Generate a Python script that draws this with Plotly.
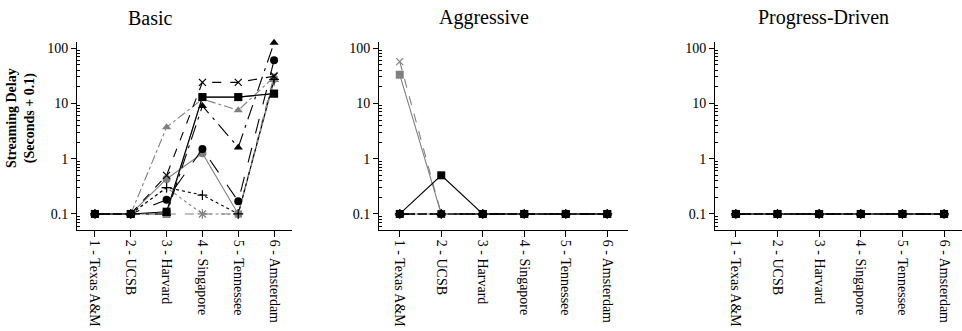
import plotly.graph_objects as go

W, H = 962, 331

categories = ["1 - Texas A&M", "2 - UCSB", "3 - Harvard", "4 - Singapore", "5 - Tennessee", "6 - Amsterdam"]
panel_titles = ["Basic", "Aggressive", "Progress-Driven"]

# Basic panel (streaming delay, seconds + 0.1)
basic_gray_plus = [0.1, 0.1, 0.3, 0.1, 0.1, 25]
basic_gray_x = [0.1, 0.1, 0.1, 0.1, 0.1, 32]
basic_gray_square = [0.1, 0.1, 0.1, 13, 13, 15]
basic_gray_circle = [0.1, 0.1, 0.43, 1.25, 0.1, 28]
basic_gray_triangle = [0.1, 0.1, 3.7, 12, 7.5, 30]
basic_black_plus = [0.1, 0.1, 0.3, 0.22, 0.1, 27]
basic_black_circle = [0.1, 0.1, 0.18, 1.5, 0.17, 60]
basic_black_triangle = [0.1, 0.1, 0.1, 9, 1.6, 125]
basic_black_x = [0.1, 0.1, 0.5, 24, 24, 31]
basic_black_square = [0.1, 0.1, 0.11, 13, 13, 15]

# Aggressive panel
aggr_gray_plus = [0.1, 0.1, 0.1, 0.1, 0.1, 0.1]
aggr_gray_x = [57, 0.1, 0.1, 0.1, 0.1, 0.1]
aggr_gray_square = [33, 0.1, 0.1, 0.1, 0.1, 0.1]
aggr_gray_circle = [0.1, 0.1, 0.1, 0.1, 0.1, 0.1]
aggr_gray_triangle = [0.1, 0.1, 0.1, 0.1, 0.1, 0.1]
aggr_black_plus = [0.1, 0.1, 0.1, 0.1, 0.1, 0.1]
aggr_black_circle = [0.1, 0.1, 0.1, 0.1, 0.1, 0.1]
aggr_black_triangle = [0.1, 0.1, 0.1, 0.1, 0.1, 0.1]
aggr_black_x = [0.1, 0.1, 0.1, 0.1, 0.1, 0.1]
aggr_black_square = [0.1, 0.5, 0.1, 0.1, 0.1, 0.1]

# Progress-Driven panel
prog_all = [0.1, 0.1, 0.1, 0.1, 0.1, 0.1]

GRAY = "#808080"
BLACK = "#000000"

# series style: (name, color, symbol, dash)
styles = [
    ("gray +", GRAY, "cross-thin-open", "dot"),
    ("gray x", GRAY, "x-thin-open", "dash"),
    ("gray square", GRAY, "square", "solid"),
    ("gray circle", GRAY, "circle", "solid"),
    ("gray triangle", GRAY, "triangle-up", "dashdot"),
    ("black +", BLACK, "cross-thin-open", "dot"),
    ("black circle", BLACK, "circle", "longdash"),
    ("black triangle", BLACK, "triangle-up", "longdashdot"),
    ("black x", BLACK, "x-thin-open", "dash"),
    ("black square", BLACK, "square", "solid"),
]

panels = [
    [basic_gray_plus, basic_gray_x, basic_gray_square, basic_gray_circle, basic_gray_triangle,
     basic_black_plus, basic_black_circle, basic_black_triangle, basic_black_x, basic_black_square],
    [aggr_gray_plus, aggr_gray_x, aggr_gray_square, aggr_gray_circle, aggr_gray_triangle,
     aggr_black_plus, aggr_black_circle, aggr_black_triangle, aggr_black_x, aggr_black_square],
    [prog_all] * 10,
]

fig = go.Figure()
for p, series in enumerate(panels):
    xa = "x" if p == 0 else f"x{p+1}"
    ya = "y" if p == 0 else f"y{p+1}"
    for (name, color, symbol, dash), vals in zip(styles, series):
        thin = "thin" in symbol
        fig.add_trace(go.Scatter(
            x=categories, y=vals, xaxis=xa, yaxis=ya, name=name, showlegend=False,
            mode="lines+markers", cliponaxis=False,
            line=dict(color=color, width=1.1, dash=dash),
            marker=dict(symbol=symbol, size=7 if thin else 8, color=color,
                        line=dict(color=color, width=1.2 if thin else 0)),
        ))

FONT = "Liberation Serif, DejaVu Serif, serif"
dom_x = [(77 / W, 292 / W), (379 / W, 628 / W), (715 / W, 1.0)]
x_ranges = [[-0.5, 5.5], [-0.5, 5.5], [-0.5, 5.43]]
ydom = [(H - 230) / H, (H - 42) / H]

minor_vals = []
for dec in [0.01, 0.1, 1, 10]:
    for k in range(2, 10):
        minor_vals.append(k * dec)

layout = dict(
    width=W, height=H, margin=dict(l=0, r=0, t=0, b=0),
    plot_bgcolor="white", paper_bgcolor="white",
    font=dict(family=FONT, size=14, color="black"),
)
for p in range(3):
    sx = "" if p == 0 else str(p + 1)
    ya = "y" if p == 0 else f"y{p+1}"
    xa = "x" if p == 0 else f"x{p+1}"
    layout["xaxis" + sx] = dict(
        domain=list(dom_x[p]), anchor=ya, type="category", range=x_ranges[p],
        showline=True, linecolor="black", linewidth=1, mirror=False,
        showgrid=False, zeroline=False, ticks="outside", ticklen=6, tickcolor="black",
        tickangle=90, tickfont=dict(family=FONT, size=14, color="black"),
    )
    layout["yaxis" + sx] = dict(
        domain=list(ydom), anchor=xa, type="log", range=[-1.29, 2.11],
        showline=True, linecolor="black", linewidth=1, mirror=False,
        showgrid=False, zeroline=False, ticks="outside", ticklen=5, tickcolor="black",
        tickmode="array", tickvals=[0.1, 1, 10, 100], ticktext=["0.1", "1", "10", "100"],
        tickfont=dict(family=FONT, size=14, color="black"),
        minor=dict(ticks="inside", ticklen=3, tickcolor="black", tickmode="array",
                   tickvals=minor_vals, showgrid=False),
    )
fig.update_layout(**layout)

title_x = [150 / W, 484 / W, 823 / W]
for tx, t in zip(title_x, panel_titles):
    fig.add_annotation(text=t, x=tx, y=(H - 18) / H, xref="paper", yref="paper",
                       showarrow=False, font=dict(family=FONT, size=20, color="black"),
                       xanchor="center", yanchor="middle")

fig.add_annotation(text="<b>Streaming Delay</b><br><b>(Seconds + 0.1)</b>",
                   x=21 / W, y=(H - 118) / H, xref="paper", yref="paper",
                   showarrow=False, textangle=-90, align="center",
                   font=dict(family=FONT, size=14, color="black"),
                   xanchor="center", yanchor="middle")

fig.write_html("out.html")
